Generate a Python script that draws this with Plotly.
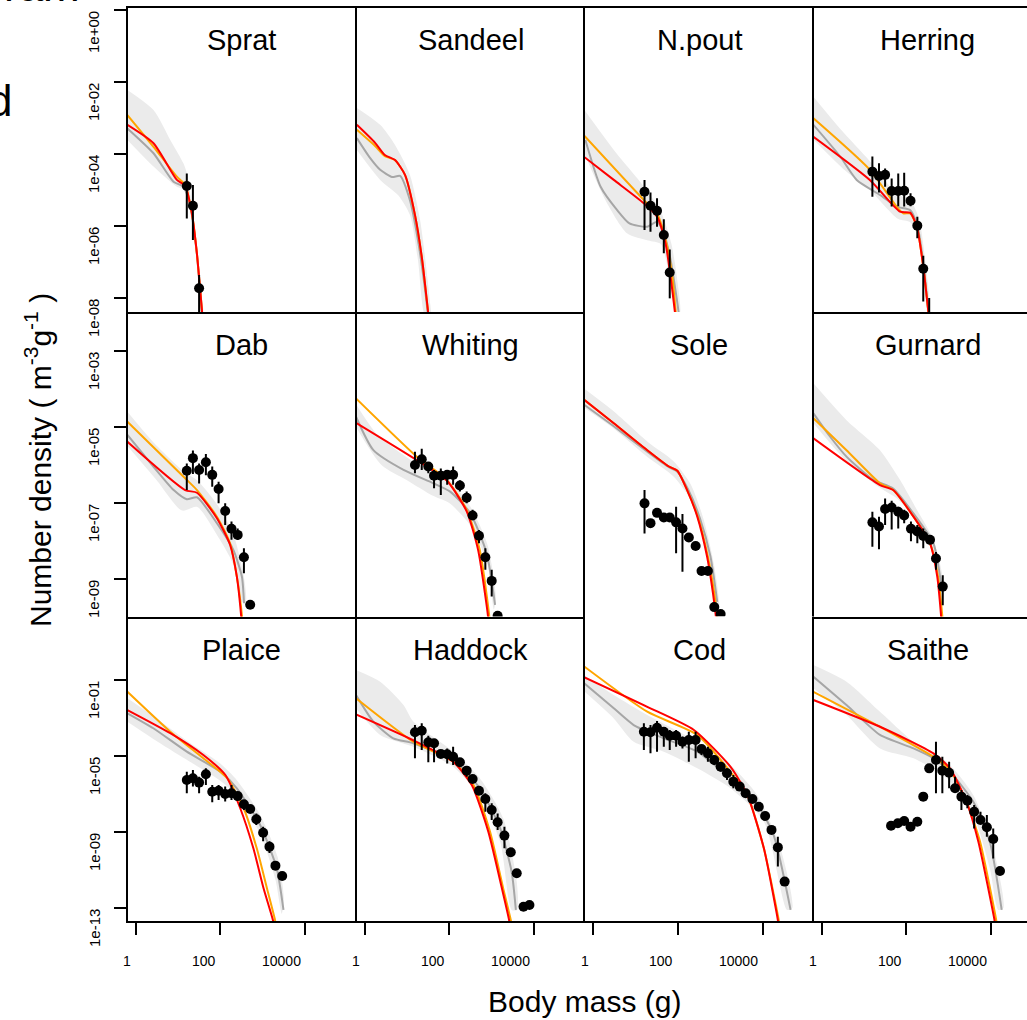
import plotly.graph_objects as go

# ---------------- data (log10 body mass [g], log10 number density) ----------------
species = ["Sprat", "Sandeel", "N.pout", "Herring",
           "Dab", "Whiting", "Sole", "Gurnard",
           "Plaice", "Haddock", "Cod", "Saithe"]

# observations: (log10 mass, log10 density, upper err, lower err) ; None = no bar
sprat_obs = [(1.21, -4.89, -4.54, -5.79), (1.354, -5.44, -4.86, -6.39), (1.50, -7.73, -7.36, -8.6)]
sprat_orange = [(-0.19, -2.92), (0.425, -3.80), (0.976, -4.63), (1.172, -4.86), (1.33, -5.65), (1.448, -6.76), (1.526, -7.78), (1.566, -8.33), (1.58, -8.6)]
sprat_red = [(-0.19, -3.19), (0.425, -3.70), (0.976, -4.72), (1.172, -4.89), (1.33, -5.65), (1.448, -6.76), (1.526, -7.78), (1.566, -8.33), (1.58, -8.6)]
sprat_grey = [(-0.19, -3.29), (0.425, -3.98), (0.896, -4.77), (1.132, -4.91), (1.30, -5.5), (1.44, -6.7), (1.53, -7.9), (1.58, -8.6)]
sprat_band_hi = [(-0.19, -2.22), (0.425, -2.78), (0.82, -3.61), (1.13, -4.26), (1.21, -4.53), (1.35, -5.6), (1.5, -7.3), (1.6, -8.6)]
sprat_band_lo = [(-0.19, -3.61), (0.425, -4.35), (0.976, -4.91), (1.17, -5.0), (1.3, -5.7), (1.45, -7.0), (1.55, -8.6)]

sandeel_obs = []
sandeel_orange = [(-0.18, -3.33), (0.25, -3.78), (0.48, -4.06), (0.72, -4.17), (0.955, -4.58), (1.19, -5.69), (1.36, -6.94), (1.50, -8.39), (1.52, -8.6)]
sandeel_red = [(-0.18, -3.19), (0.25, -3.69), (0.48, -4.03), (0.72, -4.17), (0.955, -4.58), (1.19, -5.69), (1.36, -6.94), (1.50, -8.39), (1.52, -8.6)]
sandeel_grey = [(-0.18, -3.56), (0.13, -4.11), (0.37, -4.44), (0.65, -4.64), (0.84, -4.61), (1.07, -5.28), (1.26, -6.39), (1.43, -7.78), (1.5, -8.5)]
sandeel_band_hi = [(-0.18, -2.72), (0.37, -3.19), (0.72, -3.75), (1.07, -4.58), (1.31, -5.83), (1.54, -8.06), (1.56, -8.5)]
sandeel_band_lo = [(-0.18, -3.89), (0.37, -4.72), (0.79, -5.14), (1.07, -5.69), (1.26, -6.94), (1.43, -8.5)]

npout_obs = [(1.215, -5.05, -4.72, -6.11), (1.356, -5.44, -5.07, -6.16), (1.51, -5.58, -5.23, -6.02),
             (1.67, -6.25, -5.81, -6.76), (1.81, -7.29, -6.65, -8.01)]
npout_orange = [(-0.2, -3.5), (1.2, -5.28), (1.51, -5.65), (1.75, -6.57), (1.87, -7.41), (1.95, -8.37), (1.97, -8.6)]
npout_red = [(-0.2, -4.09), (0.49, -4.72), (1.2, -5.37), (1.51, -5.74), (1.71, -6.48), (1.83, -7.41), (1.93, -8.37), (1.95, -8.6)]
npout_grey = [(-0.18, -3.61), (0.18, -4.91), (0.57, -5.56), (0.86, -5.93), (1.28, -6.02), (1.51, -5.88), (1.67, -6.2), (1.83, -6.94), (1.98, -8.06), (2.02, -8.4)]
npout_band_hi = [(-0.2, -2.78), (0.5, -3.9), (1.2, -4.9), (1.6, -5.6), (1.85, -6.5), (2.02, -7.8), (2.05, -8.4)]
npout_band_lo = [(-0.2, -4.0), (0.3, -5.3), (0.8, -6.2), (1.3, -6.4), (1.6, -6.5), (1.8, -7.4), (1.95, -8.4)]

herring_obs = [(1.20, -4.49, -4.07, -5.19), (1.356, -4.61, -4.26, -5.07), (1.50, -4.58, -4.40, -4.91),
               (1.655, -5.03, -4.68, -5.46), (1.81, -5.03, -4.54, -5.45), (1.95, -5.02, -4.52, -5.46),
               (2.10, -5.30, -5.09, -5.45), (2.26, -5.99, -5.74, -6.34), (2.40, -7.19, -6.83, -8.10),
               (2.54, -8.7, -8.0, -9.0)]
herring_orange = [(-0.19, -3.01), (1.14, -4.44), (1.77, -5.46), (1.93, -5.65), (2.09, -5.65), (2.25, -6.02), (2.40, -7.13), (2.52, -8.38), (2.54, -8.6)]
herring_red = [(-0.19, -3.52), (1.14, -4.72), (1.85, -5.6), (2.09, -5.63), (2.25, -6.02), (2.40, -7.13), (2.52, -8.38), (2.54, -8.6)]
herring_grey = [(-0.19, -3.19), (0.44, -4.07), (0.83, -4.72), (1.38, -5.14), (1.77, -5.46), (2.09, -5.56), (2.25, -5.93), (2.40, -7.0), (2.52, -8.38)]
herring_band_hi = [(-0.19, -2.41), (0.44, -3.3), (1.14, -4.2), (1.77, -5.1), (2.1, -5.3), (2.3, -5.8), (2.45, -7.0), (2.55, -8.4)]
herring_band_lo = [(-0.19, -3.6), (0.5, -4.4), (1.14, -5.0), (1.8, -5.8), (2.1, -5.9), (2.3, -6.4), (2.45, -8.0), (2.5, -8.4)]

dab_obs = [(1.21, -6.15, -5.96, -6.66), (1.354, -5.82, -5.62, -6.24), (1.50, -6.13, -5.96, -6.49),
           (1.66, -5.93, -5.71, -6.27), (1.81, -6.26, -6.04, -6.57), (1.96, -6.63, -6.44, -7.01),
           (2.115, -7.21, -7.01, -7.58), (2.264, -7.68, -7.49, -7.97), (2.41, -7.84, -7.67, -7.97),
           (2.557, -8.43, -8.19, -8.85), (2.705, -9.68, None, None)]
dab_orange = [(-0.19, -4.86), (1.17, -6.35), (1.45, -6.66), (1.92, -7.36), (2.23, -8.06), (2.39, -8.94), (2.51, -9.95), (2.52, -10.1)]
dab_red = [(-0.19, -5.39), (1.17, -6.66), (1.45, -6.73), (1.92, -7.4), (2.23, -8.1), (2.39, -8.94), (2.49, -9.95), (2.5, -10.1)]
dab_grey = [(-0.19, -5.21), (0.42, -6.04), (0.90, -6.66), (1.21, -6.90), (1.45, -6.85), (1.92, -7.53), (2.31, -8.24), (2.51, -8.94), (2.56, -9.64)]
dab_band_hi = [(-0.19, -4.60), (0.42, -5.4), (1.17, -6.2), (1.45, -6.4), (1.9, -7.0), (2.3, -7.8), (2.55, -8.9), (2.6, -9.6)]
dab_band_lo = [(-0.19, -5.5), (0.5, -6.4), (1.1, -7.2), (1.45, -7.1), (1.9, -7.8), (2.3, -8.6), (2.5, -9.6)]

whiting_obs = [(1.19, -6.0, -5.65, -6.22), (1.35, -5.85, -5.57, -6.13), (1.505, -6.04, -5.92, -6.22),
               (1.64, -6.28, -6.13, -6.61), (1.80, -6.28, -6.09, -6.79), (1.95, -6.26, -6.13, -6.52),
               (2.09, -6.26, -6.04, -6.52), (2.25, -6.54, -6.40, -6.70), (2.41, -6.86, -6.70, -7.01),
               (2.55, -7.33, -7.18, -7.45), (2.70, -7.86, -7.71, -8.06), (2.85, -8.43, -8.19, -8.76),
               (3.0, -9.05, -8.76, -9.46), (3.14, -9.97, None, None)]
whiting_orange = [(-0.2, -4.25), (1.23, -5.78), (1.94, -6.39), (2.41, -7.18), (2.72, -8.24), (2.94, -9.95), (2.95, -10.1)]
whiting_red = [(-0.2, -4.89), (1.23, -5.87), (1.94, -6.41), (2.41, -7.22), (2.68, -8.24), (2.91, -9.95), (2.92, -10.1)]
whiting_grey = [(-0.2, -4.73), (0.21, -5.61), (0.92, -6.13), (1.62, -6.48), (2.02, -6.70), (2.49, -7.26), (2.88, -8.32), (3.08, -9.68)]
whiting_band_hi = [(-0.2, -4.4), (0.3, -5.2), (1.0, -5.8), (1.6, -6.2), (2.0, -6.4), (2.5, -7.1), (2.9, -8.1), (3.1, -9.5)]
whiting_band_lo = [(-0.2, -5.0), (0.4, -6.0), (1.0, -6.4), (1.6, -6.8), (2.0, -7.0), (2.5, -7.6), (2.9, -8.6), (3.05, -9.8)]

sole_obs = [(1.215, -7.01, -6.66, -7.80), (1.356, -7.53, None, None), (1.51, -7.26, None, None),
            (1.67, -7.38, None, None), (1.81, -7.38, None, None), (1.96, -7.51, -7.10, -8.32),
            (2.11, -7.67, -7.29, -8.81), (2.26, -7.91, None, None), (2.42, -8.13, None, None),
            (2.56, -8.79, None, None), (2.71, -8.79, None, None), (2.86, -9.74, None, None),
            (3.01, -9.92, None, None)]
sole_orange = [(-0.2, -4.29), (0.49, -4.90), (1.28, -5.61), (1.79, -6.04), (1.99, -6.15), (2.22, -6.66), (2.47, -7.36), (2.71, -8.41), (2.86, -9.38), (2.94, -10.1)]
sole_red = [(-0.2, -4.29), (0.49, -4.90), (1.28, -5.61), (1.79, -6.04), (1.99, -6.15), (2.22, -6.66), (2.46, -7.36), (2.69, -8.41), (2.83, -9.38), (2.91, -10.1)]
sole_grey = [(-0.2, -4.42), (0.49, -4.98), (1.28, -5.65), (1.79, -6.06), (1.99, -6.18), (2.25, -6.66), (2.52, -7.4), (2.77, -8.41), (2.93, -9.6)]
sole_band_hi = [(-0.2, -4.0), (0.5, -4.6), (1.3, -5.4), (1.9, -5.9), (2.3, -6.5), (2.6, -7.4), (2.85, -8.6), (2.98, -9.8)]
sole_band_lo = [(-0.2, -4.5), (0.5, -5.05), (1.3, -5.8), (1.9, -6.3), (2.3, -6.9), (2.6, -7.8), (2.8, -8.8), (2.92, -9.9)]

gurnard_obs = [(1.20, -7.51, -7.23, -8.15), (1.356, -7.62, -7.36, -8.22), (1.50, -7.16, -6.88, -7.58),
               (1.655, -7.12, -6.94, -7.70), (1.81, -7.23, -7.10, -7.67), (1.95, -7.33, -7.18, -7.53),
               (2.11, -7.68, -7.49, -8.01), (2.26, -7.75, -7.58, -8.06), (2.40, -7.87, -7.67, -8.19),
               (2.56, -7.97, None, None), (2.70, -8.46, -8.29, -8.76), (2.86, -9.20, -8.90, -9.69)]
gurnard_orange = [(-0.19, -4.77), (0.59, -5.61), (1.38, -6.48), (1.69, -6.66), (2.17, -7.36), (2.56, -8.06), (2.75, -8.94), (2.86, -10.1)]
gurnard_red = [(-0.19, -5.30), (1.38, -6.53), (1.69, -6.66), (2.17, -7.36), (2.56, -8.06), (2.73, -8.94), (2.83, -10.1)]
gurnard_grey = [(-0.19, -4.64), (0.2, -5.25), (0.59, -5.78), (1.22, -6.39), (1.69, -6.62), (2.17, -7.28), (2.64, -8.06), (2.83, -9.2)]
gurnard_band_hi = [(-0.19, -3.85), (0.59, -4.82), (1.38, -5.61), (1.85, -6.39), (2.25, -7.18), (2.64, -7.97), (2.88, -9.1)]
gurnard_band_lo = [(-0.19, -4.9), (0.59, -5.9), (1.38, -6.6), (1.8, -6.9), (2.25, -7.5), (2.64, -8.3), (2.85, -9.5)]

plaice_obs = [(1.21, -6.26, -5.83, -6.96), (1.354, -6.17, -5.74, -6.61), (1.50, -6.40, -6.09, -6.96),
              (1.66, -5.96, -5.65, -6.53), (1.81, -6.88, -6.53, -7.44), (1.96, -6.83, -6.53, -7.32),
              (2.115, -7.0, -6.61, -7.39), (2.264, -6.96, -6.53, -7.32), (2.41, -7.11, None, None),
              (2.557, -7.54, -7.32, -7.84), (2.705, -7.79, None, None), (2.85, -8.33, -8.02, -8.63),
              (3.01, -9.04, -8.72, -9.49), (3.16, -9.77, -9.49, -10.1), (3.30, -10.77, None, None),
              (3.46, -11.32, None, None)]
plaice_orange = [(-0.19, -1.62), (0.82, -3.72), (1.60, -5.12), (2.16, -6.17), (2.55, -7.75), (2.86, -9.86), (3.10, -11.96), (3.29, -13.63), (3.3, -13.8)]
plaice_red = [(-0.19, -2.58), (0.82, -3.8), (1.60, -4.95), (2.12, -6.0), (2.47, -7.75), (2.78, -9.86), (3.02, -11.96), (3.24, -13.63), (3.25, -13.8)]
plaice_grey = [(-0.19, -2.75), (0.42, -3.54), (1.21, -4.77), (2.0, -5.83), (2.39, -6.70), (2.94, -8.63), (3.33, -10.91), (3.49, -13.1)]
plaice_band_hi = [(-0.19, -1.96), (0.42, -2.9), (1.21, -4.2), (2.0, -5.4), (2.4, -6.3), (2.94, -8.1), (3.35, -10.3), (3.5, -12.5)]
plaice_band_lo = [(-0.19, -3.2), (0.42, -4.1), (1.21, -5.2), (2.0, -6.3), (2.4, -7.1), (2.94, -9.1), (3.3, -11.5), (3.45, -13.3)]

haddock_obs = [(1.19, -3.75, -3.37, -5.12), (1.35, -3.67, -3.28, -4.68), (1.505, -4.28, -3.93, -5.33),
               (1.64, -4.33, -4.10, -5.33), (1.80, -4.89, None, None), (1.95, -4.91, -4.60, -5.39),
               (2.09, -5.04, -4.51, -5.47), (2.25, -5.33, None, None), (2.41, -5.77, -5.56, -6.09),
               (2.55, -6.21, None, None), (2.70, -6.83, None, None), (2.85, -7.26, -6.96, -7.93),
               (3.0, -7.84, -7.49, -8.37), (3.14, -8.49, -8.02, -8.90), (3.30, -9.19, -8.72, -9.86),
               (3.45, -10.07, None, None), (3.59, -11.17, None, None), (3.75, -12.93, None, None),
               (3.89, -12.84, None, None)]
haddock_orange = [(-0.2, -1.96), (1.15, -4.25), (2.09, -5.3), (2.57, -6.53), (2.96, -8.98), (3.27, -11.96), (3.45, -13.63), (3.46, -13.8)]
haddock_red = [(-0.2, -2.81), (1.15, -4.17), (2.09, -5.30), (2.53, -6.53), (2.92, -8.98), (3.24, -11.96), (3.41, -13.63), (3.42, -13.8)]
haddock_grey = [(-0.2, -1.79), (0.21, -3.19), (0.68, -4.07), (1.15, -4.33), (2.09, -5.21), (2.72, -6.70), (3.20, -8.81), (3.47, -11.09), (3.57, -13.1)]
haddock_band_hi = [(-0.2, -0.47), (0.37, -1.09), (0.92, -2.32), (1.15, -3.19), (2.09, -4.77), (2.72, -6.17), (3.27, -8.28), (3.59, -11.6), (3.6, -13.1)]
haddock_band_lo = [(-0.2, -2.49), (0.37, -3.89), (1.15, -4.51), (2.09, -5.56), (2.72, -7.14), (3.2, -9.51), (3.47, -13.1)]

cod_obs = [(1.20, -3.72, -3.28, -4.68), (1.356, -3.75, -3.37, -4.86), (1.51, -3.51, -3.16, -4.77),
           (1.67, -3.72, -3.54, -4.51), (1.81, -3.93, -3.63, -4.68), (1.96, -3.93, -3.63, -4.51),
           (2.11, -4.25, -3.98, -4.60), (2.26, -4.16, -3.72, -5.30), (2.42, -4.16, -3.72, -5.12),
           (2.56, -4.63, -4.42, -4.95), (2.71, -4.86, -4.51, -5.30), (2.86, -5.21, -4.95, -5.47),
           (3.01, -5.56, -5.30, -5.82), (3.16, -5.91, -5.65, -6.26), (3.31, -6.35, -6.00, -6.70),
           (3.46, -6.61, None, None), (3.60, -6.96, None, None), (3.76, -7.26, None, None),
           (3.91, -7.67, None, None), (4.06, -8.16, None, None), (4.21, -8.89, None, None),
           (4.36, -9.81, -9.25, -10.82), (4.52, -11.61, None, None)]
cod_orange = [(-0.2, -0.30), (1.28, -2.67), (2.46, -3.89), (3.24, -5.83), (3.64, -7.05), (4.03, -9.86), (4.38, -13.63), (4.39, -13.8)]
cod_red = [(-0.2, -0.86), (1.28, -2.41), (2.38, -3.63), (3.24, -5.56), (3.64, -7.05), (4.03, -9.86), (4.36, -13.63), (4.37, -13.8)]
cod_grey = [(-0.2, -1.18), (0.49, -2.49), (0.96, -3.37), (1.67, -4.07), (2.46, -4.77), (3.24, -6.17), (3.79, -7.23), (4.26, -9.16), (4.66, -13.1)]
cod_band_hi = [(-0.2, -0.79), (0.49, -1.79), (1.28, -2.84), (2.46, -4.25), (3.24, -5.47), (3.87, -7.05), (4.42, -9.86), (4.7, -13.0)]
cod_band_lo = [(-0.2, -1.61), (0.49, -3.02), (0.96, -4.25), (1.67, -4.77), (2.46, -5.65), (3.24, -6.70), (4.03, -8.46), (4.58, -13.1)]

saithe_obs = [(1.64, -8.67, None, None), (1.80, -8.54, None, None), (1.95, -8.42, None, None),
              (2.10, -8.72, None, None), (2.26, -8.46, None, None), (2.40, -7.14, None, None),
              (2.54, -5.65, None, None), (2.70, -5.21, -4.25, -6.96), (2.85, -5.77, -5.04, -6.96),
              (3.01, -5.88, -5.30, -6.70), (3.15, -6.70, -6.09, -6.79), (3.30, -7.14, -6.79, -7.84),
              (3.44, -7.35, -7.05, -7.75), (3.60, -7.93, -7.58, -8.81), (3.75, -8.37, -7.93, -8.54),
              (3.90, -8.75, -8.11, -9.25), (4.05, -9.37, -8.81, -10.39), (4.21, -11.05, None, None)]
saithe_orange = [(-0.19, -1.62), (1.38, -3.46), (2.64, -5.04), (3.03, -5.74), (3.42, -7.41), (3.74, -9.51), (4.12, -13.63), (4.13, -13.8)]
saithe_red = [(-0.19, -2.05), (1.38, -3.46), (2.64, -4.86), (3.03, -5.65), (3.42, -7.41), (3.70, -9.51), (4.08, -13.63), (4.09, -13.8)]
saithe_grey = [(-0.19, -0.83), (0.59, -2.32), (1.38, -3.89), (2.17, -4.60), (2.64, -5.12), (3.03, -5.83), (3.58, -7.41), (3.97, -9.51), (4.25, -13.1)]
saithe_band_hi = [(-0.19, -0.21), (0.59, -1.09), (1.38, -2.67), (2.17, -4.25), (2.95, -5.30), (3.58, -7.05), (4.05, -9.86), (4.29, -13.0)]
saithe_band_lo = [(-0.19, -1.44), (0.59, -2.84), (1.38, -4.60), (2.17, -5.12), (2.95, -6.17), (3.58, -8.11), (3.97, -10.91), (4.17, -13.1)]

x_tick_exp = [0, 2, 4]
x_tick_text = ["1", "100", "10000"]
row_y_tick_exp = [[0, -2, -4, -6, -8], [-3, -5, -7, -9], [-1, -5, -9, -13]]
row_y_range = [[-8.389, 0.069], [-9.987, -1.974], [-13.684, 2.342]]

panels = {
    "Sprat": (sprat_obs, sprat_orange, sprat_red, sprat_grey, sprat_band_hi, sprat_band_lo),
    "Sandeel": (sandeel_obs, sandeel_orange, sandeel_red, sandeel_grey, sandeel_band_hi, sandeel_band_lo),
    "N.pout": (npout_obs, npout_orange, npout_red, npout_grey, npout_band_hi, npout_band_lo),
    "Herring": (herring_obs, herring_orange, herring_red, herring_grey, herring_band_hi, herring_band_lo),
    "Dab": (dab_obs, dab_orange, dab_red, dab_grey, dab_band_hi, dab_band_lo),
    "Whiting": (whiting_obs, whiting_orange, whiting_red, whiting_grey, whiting_band_hi, whiting_band_lo),
    "Sole": (sole_obs, sole_orange, sole_red, sole_grey, sole_band_hi, sole_band_lo),
    "Gurnard": (gurnard_obs, gurnard_orange, gurnard_red, gurnard_grey, gurnard_band_hi, gurnard_band_lo),
    "Plaice": (plaice_obs, plaice_orange, plaice_red, plaice_grey, plaice_band_hi, plaice_band_lo),
    "Haddock": (haddock_obs, haddock_orange, haddock_red, haddock_grey, haddock_band_hi, haddock_band_lo),
    "Cod": (cod_obs, cod_orange, cod_red, cod_grey, cod_band_hi, cod_band_lo),
    "Saithe": (saithe_obs, saithe_orange, saithe_red, saithe_grey, saithe_band_hi, saithe_band_lo),
}

# ---------------- layout geometry (pixels) ----------------
W, H = 1027, 1020
col_left = [127.5, 356.5, 585.0, 813.5]
col_w = 228.8
row_top = [7.5, 312.0, 616.5]
row_h = 304.5
px_per_dec = 42.4
x0_off = 8.0
FONT = "Liberation Sans, Arial, sans-serif"

BAND = "#EBEBEB"
GREY = "#A6A6A6"
ORANGE = "#FFA500"
RED = "#FF0000"


def p10(v):
    return None if v is None else 10 ** v


def fx(px):
    return px / W


def fy(py):
    return 1 - py / H


fig = go.Figure()
annotations = []

for i, name in enumerate(species):
    r, c = divmod(i, 4)
    n = i + 1
    xa = "x" if n == 1 else f"x{n}"
    ya = "y" if n == 1 else f"y{n}"
    obs, orange, red, grey, band_hi, band_lo = panels[name]

    # band polygon
    bx = [p10(a) for a, _ in band_hi] + [p10(a) for a, _ in reversed(band_lo)]
    by = [p10(b) for _, b in band_hi] + [p10(b) for _, b in reversed(band_lo)]
    fig.add_trace(go.Scatter(x=bx, y=by, mode="lines", fill="toself", fillcolor=BAND,
                             line=dict(width=0, color=BAND, shape="spline", smoothing=0.7),
                             xaxis=xa, yaxis=ya, hoverinfo="skip", showlegend=False))
    for series, col in ((grey, GREY), (orange, ORANGE), (red, RED)):
        fig.add_trace(go.Scatter(x=[p10(a) for a, _ in series], y=[p10(b) for _, b in series],
                                 mode="lines", line=dict(color=col, width=2, shape="spline", smoothing=0.6),
                                 xaxis=xa, yaxis=ya, hoverinfo="skip", showlegend=False))
    if obs:
        ex, ey = [], []
        for (a, b, hi, lo) in obs:
            if hi is not None:
                ex += [p10(a), p10(a), None]
                ey += [p10(hi), p10(lo), None]
        if ex:
            fig.add_trace(go.Scatter(x=ex, y=ey, mode="lines", line=dict(color="black", width=2),
                                     xaxis=xa, yaxis=ya, hoverinfo="skip", showlegend=False))
        fig.add_trace(go.Scatter(x=[p10(o[0]) for o in obs], y=[p10(o[1]) for o in obs],
                                 mode="markers", marker=dict(color="black", size=10),
                                 xaxis=xa, yaxis=ya, hoverinfo="skip", showlegend=False))

    xl = col_left[c]
    xr = min(xl + col_w, W)
    yt = row_top[r]
    yb = yt + row_h
    xrange = [-x0_off / px_per_dec, (xr - xl - x0_off) / px_per_dec]
    key_x = "xaxis" if n == 1 else f"xaxis{n}"
    key_y = "yaxis" if n == 1 else f"yaxis{n}"
    # each shared border is drawn only once: bottom + left of every panel, top of first row
    fig.layout[key_x] = dict(
        type="log", range=xrange, domain=[fx(xl), fx(xr)], anchor=ya,
        showline=True, mirror=(r == 0), linecolor="black", linewidth=2,
        showgrid=False, zeroline=False,
        ticks="outside" if r == 2 else "", tickvals=[10 ** e for e in x_tick_exp],
        ticklen=12, tickwidth=1.5, tickcolor="black", showticklabels=False)
    fig.layout[key_y] = dict(
        type="log", range=row_y_range[r], domain=[fy(yb), fy(yt)], anchor=xa,
        showline=True, mirror=False, linecolor="black", linewidth=2,
        showgrid=False, zeroline=False,
        ticks="outside" if c == 0 else "", tickvals=[10 ** e for e in row_y_tick_exp[r]],
        ticklen=12, tickwidth=1.5, tickcolor="black", showticklabels=False)

    # panel title
    annotations.append(dict(text=name, x=fx(xl + col_w / 2), y=fy(yt + 33), xref="paper", yref="paper",
                            xanchor="center", yanchor="middle", showarrow=False,
                            font=dict(family=FONT, size=29, color="black")))

    # x tick labels (bottom row)
    if r == 2:
        for e, t in zip(x_tick_exp, x_tick_text):
            tpx = xl + x0_off + e * px_per_dec
            annotations.append(dict(text=t, x=fx(tpx - 2.5), y=fy(961), xref="paper", yref="paper",
                                    xanchor="right", yanchor="middle", showarrow=False,
                                    font=dict(family=FONT, size=14, color="black")))
    # y tick labels (first column)
    if c == 0:
        lo_r, hi_r = row_y_range[r]
        scale = row_h / (hi_r - lo_r)
        for e in row_y_tick_exp[r]:
            tpy = yt + (hi_r - e) * scale
            lab = f"1e{e:+03d}"
            annotations.append(dict(text=lab, x=fx(94), y=fy(tpy - 1), xref="paper", yref="paper",
                                    xanchor="center", yanchor="top", textangle=-90, showarrow=False,
                                    font=dict(family=FONT, size=15, color="black")))

annotations.append(dict(text="Body mass (g)", x=fx(584.5), y=fy(1001), xref="paper", yref="paper",
                        xanchor="center", yanchor="middle", showarrow=False,
                        font=dict(family=FONT, size=30, color="black")))
annotations.append(dict(text="Number density ( m<sup>-3</sup>g<sup>-1</sup> )", x=fx(38), y=fy(460),
                        xref="paper", yref="paper", xanchor="center", yanchor="middle",
                        textangle=-90, showarrow=False,
                        font=dict(family=FONT, size=30, color="black")))
# fragments of neighbouring text cut by the frame
annotations.append(dict(text="d", x=fx(14), y=fy(101), xref="paper", yref="paper",
                        xanchor="right", yanchor="middle", showarrow=False,
                        font=dict(family=FONT, size=44, color="black")))
annotations.append(dict(text="ram", x=fx(2), y=fy(-15), xref="paper", yref="paper",
                        xanchor="left", yanchor="middle", showarrow=False,
                        font=dict(family=FONT, size=44, color="black")))

fig.update_layout(width=W, height=H, autosize=False, margin=dict(l=0, r=0, t=0, b=0),
                  paper_bgcolor="white", plot_bgcolor="white", annotations=annotations,
                  showlegend=False, font=dict(family=FONT))

fig.write_html("out.html")
